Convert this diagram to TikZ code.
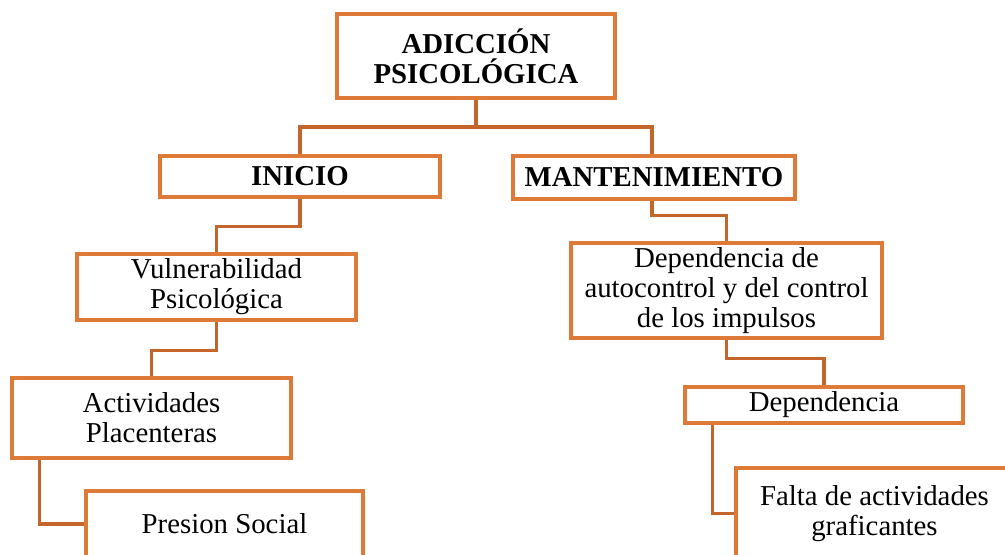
\documentclass[tikz,border=0pt]{standalone}
\usepackage{fontspec}
\setmainfont{Liberation Serif}
\definecolor{boxc}{HTML}{DE7A38}
\definecolor{linec}{HTML}{C4652B}
\tikzset{
  box/.style={draw=boxc, line width=3.2bp, inner sep=0pt, align=center,
    font=\fontsize{28.8bp}{30bp}\selectfont},
  conn/.style={draw=linec, line width=3.2bp}
}
\begin{document}
\begin{tikzpicture}[x=1bp,y=-1bp]
\useasboundingbox (0,0) rectangle (1005,555);
\clip (0,0) rectangle (1005,555);
\node[box, minimum width=278bp, minimum height=84bp, font=\fontsize{28.8bp}{30bp}\selectfont\bfseries] (top) at (476,56) {ADICCIÓN\\PSICOLÓGICA};
\node[box, minimum width=280bp, minimum height=41bp, font=\fontsize{28.8bp}{30bp}\selectfont\bfseries] (inicio) at (300,176.5) {INICIO};
\node[box, minimum width=282bp, minimum height=43bp, font=\fontsize{28.8bp}{30bp}\selectfont\bfseries] (mant) at (654,177.5) {MANTENIMIENTO};
\node[box, minimum width=279bp, minimum height=66bp] (vuln) at (216.5,287) {Vulnerabilidad\\Psicológica};
\node[box, minimum width=279bp, minimum height=80bp] (activ) at (151.5,418) {Actividades\\Placenteras};
\node[box, minimum width=277bp, minimum height=66bp] (presion) at (224.5,524) {Presion Social};
\node[box, minimum width=311bp, minimum height=95bp] (dep1) at (726.5,290.5) {Dependencia de\\autocontrol y del control\\de los impulsos};
\node[box, minimum width=278bp, minimum height=36bp] (dep2) at (824,405) {Dependencia};
\node[box, minimum width=277bp, minimum height=91bp] (falta) at (874.5,513.5) {Falta de actividades\\graficantes};
\coordinate (j1) at (476,127);
\draw[conn] (top.south) -- (j1);
\draw[conn] (inicio.north) |- (j1) -| ([xshift=-2bp]mant.north);
\draw[conn] (inicio.south) -- ++(0,28) -| (vuln.north);
\draw[conn] (vuln.south) -- ++(0,29) -| (activ.north);
\draw[conn] ([xshift=29bp]activ.south west) |- (presion.west);
\draw[conn] ([xshift=-2bp]mant.south) -- ++(0,15) -| (dep1.north);
\draw[conn] (dep1.south) -- ++(0,19) -| (dep2.north);
\draw[conn] ([xshift=29bp]dep2.south west) |- (falta.west);
\end{tikzpicture}
\end{document}
